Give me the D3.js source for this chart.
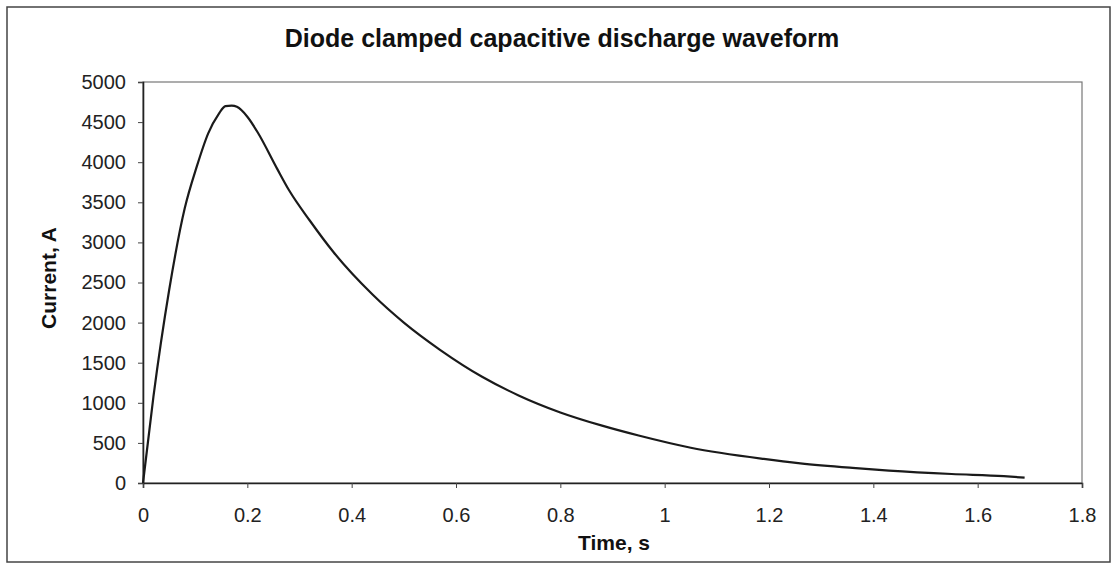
<!DOCTYPE html>
<html><head><meta charset="utf-8">
<script src="https://cdn.jsdelivr.net/npm/d3@7"></script>
<style>body{margin:0;background:#fff}svg{display:block}</style>
</head><body>
<svg id="c" width="1115" height="564"></svg>
<script>
const title = "Diode clamped capacitive discharge waveform";
const xLabel = "Time, s";
const yLabel = "Current, A";
const xTicks = [0,0.2,0.4,0.6,0.8,1,1.2,1.4,1.6,1.8];
const yTicks = [0,500,1000,1500,2000,2500,3000,3500,4000,4500,5000];
const timeS = [0,0.02,0.05,0.08,0.103,0.125,0.145,0.158,0.17,0.18,0.20,0.22,0.257,0.28,0.32,0.365,0.44,0.50,0.57,0.65,0.72,0.80,0.88,0.95,1.05,1.19,1.26,1.36,1.43,1.55,1.65,1.69];
const currentA = [0,1076,2400,3425,3944,4360,4600,4700,4705,4690,4567,4370,3920,3650,3270,2880,2350,2000,1658,1325,1092,880,715,592,440,300,245,188,155,112,85,66];

const svg = d3.select("#c");
const m = {l:143, r:1082, t:82, b:483};
const x = d3.scaleLinear().domain([0,1.8]).range([m.l,m.r]);
const y = d3.scaleLinear().domain([0,5000]).range([m.b,m.t]);
const font = "'Liberation Sans', Arial, sans-serif";

svg.append("rect").attr("x",7).attr("y",7).attr("width",1103).attr("height",555)
  .attr("fill","#fff").attr("stroke","#444").attr("stroke-width",1.5);

svg.append("rect").attr("x",m.l).attr("y",m.t).attr("width",m.r-m.l).attr("height",m.b-m.t)
  .attr("fill","none").attr("stroke","#777").attr("stroke-width",1.2);

const yAx = svg.append("g").attr("transform",`translate(${m.l},0)`)
  .call(d3.axisLeft(y).tickValues(yTicks).tickSize(5).tickPadding(12).tickFormat(d3.format("d")));
const xAx = svg.append("g").attr("transform",`translate(0,${m.b})`)
  .call(d3.axisBottom(x).tickValues(xTicks).tickSize(5).tickFormat(d=>String(d)));
[yAx,xAx].forEach(g=>{
  g.select(".domain").attr("stroke","#222").attr("stroke-width",1.6);
  g.selectAll(".tick line").attr("stroke","#444");
  g.selectAll("text").attr("font-family",font).attr("font-size",20).attr("fill","#222");
});
xAx.selectAll("text").attr("y",39).attr("dy",0);

const pts = timeS.map((t,i)=>[t,currentA[i]]);
svg.append("path").datum(pts)
  .attr("fill","none").attr("stroke","#1a1a1a").attr("stroke-width",2.2)
  .attr("d", d3.line().x(d=>x(d[0])).y(d=>y(d[1])).curve(d3.curveMonotoneX));

svg.append("text").attr("x",562).attr("y",47).attr("text-anchor","middle")
  .attr("font-family",font).attr("font-weight","bold").attr("font-size",25).attr("fill","#111").text(title);
svg.append("text").attr("x",614).attr("y",550).attr("text-anchor","middle")
  .attr("font-family",font).attr("font-weight","bold").attr("font-size",21).attr("fill","#111").text(xLabel);
svg.append("text").attr("transform","translate(56,278) rotate(-90)").attr("text-anchor","middle")
  .attr("font-family",font).attr("font-weight","bold").attr("font-size",21).attr("fill","#111").text(yLabel);
</script>
</body></html>
